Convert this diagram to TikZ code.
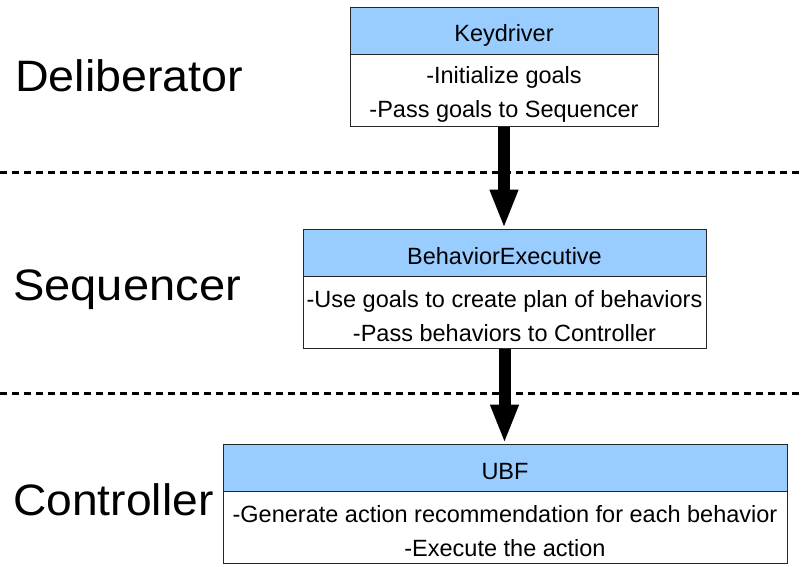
\documentclass[tikz,border=0pt]{standalone}
\usepackage{fontspec}
\setmainfont{Liberation Sans}
\usetikzlibrary{arrows.meta}
\definecolor{hdrblue}{HTML}{99CCFF}
\newcommand{\topstrut}{\rule{0pt}{24pt}}
\begin{document}
\begin{tikzpicture}[x=1pt,y=-1pt,
  hdr/.style={draw=black!85, line width=0.9pt, fill=hdrblue, minimum height=47pt, inner sep=0pt,
    text height=23pt, text depth=0pt, font=\fontsize{23.5}{28}\selectfont},
  bodybox/.style={draw=black!85, line width=0.9pt, fill=white, minimum height=72pt, inner sep=0pt,
    anchor=north, align=center, font=\fontsize{23.5}{34}\selectfont},
  layerlabel/.style={anchor=base west, inner sep=0pt, font=\fontsize{44}{50}\selectfont},
  sepline/.style={line width=3pt, dash pattern=on 7pt off 5pt},
  bigarrow/.style={line width=12pt, -{Triangle[width=26pt,length=39pt]}}]
\useasboundingbox (0,0) rectangle (804,567);
\fill[white] (0,0) rectangle (804,567);

% separators
\draw[sepline] (0,172.5) -- (804,172.5);
\draw[sepline] (0,393.5) -- (804,393.5);

% layer labels
\node[layerlabel] (lDel) at (15,92) {\scalebox{1.06}[1]{Deliberator}};
\node[layerlabel] (lSeq) at (13,300) {\scalebox{1.07}[1]{Sequencer}};
\node[layerlabel] (lCon) at (13,515) {\scalebox{1.05}[1]{Controller}};

% Keydriver
\node[hdr, minimum width=308pt] (kh) at (504,30.5) {Keydriver};
\node[bodybox, minimum width=308pt] (kb) at (kh.south) {\topstrut-Initialize goals\\-Pass goals to Sequencer};

% BehaviorExecutive
\node[hdr, minimum width=403pt] (bh) at (504.5,252.5) {BehaviorExecutive};
\node[bodybox, minimum width=403pt] (bb) at (bh.south) {\topstrut-Use goals to create plan of behaviors\\-Pass behaviors to Controller};

% UBF
\node[hdr, minimum width=564pt] (uh) at (505,467.5) {UBF};
\node[bodybox, minimum width=564pt] (ub) at (uh.south) {\topstrut-Generate action recommendation for each behavior\\-Execute the action};

% arrows
\draw[bigarrow] (kb.south) -- (kb.south |- bh.north);
\draw[bigarrow] (bb.south) -- (bb.south |- uh.north);
\end{tikzpicture}
\end{document}
